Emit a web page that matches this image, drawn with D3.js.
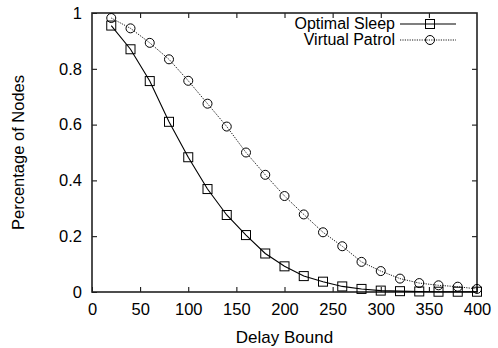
<!DOCTYPE html>
<html>
<head>
<meta charset="utf-8">
<script src="https://cdn.jsdelivr.net/npm/d3@7"></script>
<style>
  body { margin: 0; background: #fff; }
  svg text { font-family: "Liberation Sans", Arial, sans-serif; fill: #000; }
</style>
</head>
<body>
<div id="chart"></div>
<script>
// delay bound values (x)
const delayBounds = [20, 40, 60, 80, 100, 120, 140, 160, 180, 200, 220, 240, 260, 280, 300, 320, 340, 360, 380, 400]
const optimalSleep = [0.955, 0.87, 0.756, 0.61, 0.483, 0.369, 0.276, 0.204, 0.138, 0.092, 0.057, 0.037, 0.02, 0.011, 0.005, 0.003, 0.002, 0.001, 0.001, 0.001]
const virtualPatrol = [0.982, 0.945, 0.893, 0.834, 0.757, 0.675, 0.593, 0.5, 0.42, 0.344, 0.278, 0.214, 0.164, 0.108, 0.075, 0.048, 0.032, 0.024, 0.019, 0.011]
const xTicks = [0, 50, 100, 150, 200, 250, 300, 350, 400]
const yTicks = [0, 0.2, 0.4, 0.6, 0.8, 1]

const series = [
  {name: "Optimal Sleep", values: optimalSleep, marker: "square", dash: null},
  {name: "Virtual Patrol", values: virtualPatrol, marker: "circle", dash: "1.2,1.2"}
]

const width = 498, height = 348
const margin = {top: 13, right: 21, bottom: 56, left: 92}
const plotW = width - margin.left - margin.right
const plotH = height - margin.top - margin.bottom

const svg = d3.select("#chart").append("svg")
  .attr("width", width)
  .attr("height", height)

const xScale = d3.scaleLinear().domain([0, 400]).range([margin.left, margin.left + plotW])
const yScale = d3.scaleLinear().domain([0, 1]).range([margin.top + plotH, margin.top])

const tickLen = 5
const fmtY = d => d === 0 || d === 1 ? d3.format("d")(d) : d3.format(".1f")(d)

// bottom & top axes (inward ticks)
svg.append("g")
  .attr("transform", `translate(0,${margin.top + plotH})`)
  .call(d3.axisBottom(xScale).tickValues(xTicks).tickSizeInner(-tickLen).tickSizeOuter(0).tickPadding(11))
svg.append("g")
  .attr("transform", `translate(0,${margin.top})`)
  .call(d3.axisTop(xScale).tickValues(xTicks.slice(1, -1)).tickSizeInner(-tickLen).tickSizeOuter(0).tickFormat(""))
svg.append("g")
  .attr("transform", `translate(${margin.left},0)`)
  .call(d3.axisLeft(yScale).tickValues(yTicks).tickSizeInner(-tickLen).tickSizeOuter(0).tickPadding(10).tickFormat(fmtY))
svg.append("g")
  .attr("transform", `translate(${margin.left + plotW},0)`)
  .call(d3.axisRight(yScale).tickValues(yTicks.slice(1, -1)).tickSizeInner(-tickLen).tickSizeOuter(0).tickFormat(""))

svg.selectAll(".domain").remove()
svg.selectAll(".tick line").attr("stroke", "#000").attr("stroke-width", 1)
svg.selectAll(".tick text").attr("font-size", 16.5).attr("fill", "#000")

// frame
svg.append("rect")
  .attr("x", margin.left).attr("y", margin.top)
  .attr("width", plotW).attr("height", plotH)
  .attr("fill", "none").attr("stroke", "#222").attr("stroke-width", 1.6)

const line = d3.line()
  .x((d, i) => xScale(delayBounds[i]))
  .y(d => yScale(d))

function drawMarker(g, type, x, y) {
  if (type === "square") {
    g.append("rect").attr("x", x - 4.5).attr("y", y - 4.5).attr("width", 9).attr("height", 9)
      .attr("fill", "none").attr("stroke", "#000").attr("stroke-width", 1)
  } else {
    g.append("circle").attr("cx", x).attr("cy", y).attr("r", 4.5)
      .attr("fill", "none").attr("stroke", "#000").attr("stroke-width", 1)
  }
}

series.forEach(s => {
  const g = svg.append("g")
  g.append("path")
    .attr("d", line(s.values))
    .attr("fill", "none")
    .attr("stroke", "#000")
    .attr("stroke-width", s.dash ? 0.9 : 1.1)
    .attr("stroke-dasharray", s.dash)
  s.values.forEach((v, i) => drawMarker(g, s.marker, xScale(delayBounds[i]), yScale(v)))
})

// legend
const legend = svg.append("g")
series.forEach((s, i) => {
  const ly = 24 + i * 16
  legend.append("text")
    .attr("x", 395).attr("y", ly)
    .attr("dy", "0.33em")
    .attr("text-anchor", "end")
    .attr("font-size", 16)
    .text(s.name)
  legend.append("line")
    .attr("x1", 400).attr("x2", 456).attr("y1", ly).attr("y2", ly)
    .attr("stroke", "#000")
    .attr("stroke-width", s.dash ? 0.9 : 1.1)
    .attr("stroke-dasharray", s.dash)
  drawMarker(legend, s.marker, 430, ly)
})

// axis titles
svg.append("text")
  .attr("x", margin.left + plotW / 2).attr("y", 343)
  .attr("text-anchor", "middle")
  .attr("font-size", 17)
  .text("Delay Bound")
svg.append("text")
  .attr("transform", `translate(24,${margin.top + plotH / 2}) rotate(-90)`)
  .attr("text-anchor", "middle")
  .attr("font-size", 16.5)
  .text("Percentage of Nodes")
</script>
</body>
</html>
